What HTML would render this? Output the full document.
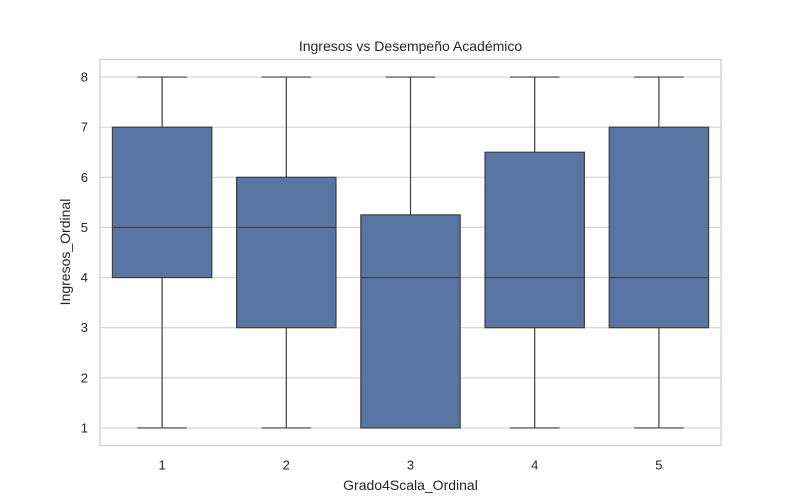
<!DOCTYPE html>
<html><head><meta charset="utf-8"><style>
html,body{margin:0;padding:0;background:#fff;}
svg{display:block;font-family:"Liberation Sans","DejaVu Sans",sans-serif;}
</style></head><body>
<svg id="chart" width="800" height="500" xmlns="http://www.w3.org/2000/svg">
<rect x="0" y="0" width="800" height="500" fill="#fff"/>
<g id="grid"></g>
<g id="boxes"></g>
<rect x="100" y="59.5" width="621" height="386" fill="none" stroke="#cccccc" stroke-width="1.2"/>
<g id="ticks"></g>
<text x="410.5" y="51" text-anchor="middle" font-size="14" fill="#262626">Ingresos vs Desempeño Académico</text>
<text x="410.5" y="490" text-anchor="middle" font-size="14" fill="#262626">Grado4Scala_Ordinal</text>
<text transform="translate(70,252) rotate(-90)" text-anchor="middle" font-size="14" fill="#262626">Ingresos_Ordinal</text>
</svg>
<script>
const categories = ["1","2","3","4","5"];
const mins = [1,1,1,1,1];
const q1s = [4,3,1,3,3];
const medians = [5,5,4,4,4];
const q3s = [7,6,5.25,6.5,7];
const maxs = [8,8,8,8,8];
const yTicks = [1,2,3,4,5,6,7,8];

const L=100,R=721,T=59.5,B=445.5;
const yMin=0.65,yMax=8.35;
function y(v){return B-(v-yMin)/(yMax-yMin)*(B-T);}
function x(i){return L+(i+0.5)/categories.length*(R-L);}
const step=(R-L)/categories.length;
const NS="http://www.w3.org/2000/svg";
function mk(tag,attrs,parent){const e=document.createElementNS(NS,tag);for(const k in attrs)e.setAttribute(k,attrs[k]);parent.appendChild(e);return e;}
const grid=document.getElementById('grid'),boxes=document.getElementById('boxes'),ticks=document.getElementById('ticks');
yTicks.forEach(t=>{
  const g=mk('line',{x1:L,x2:R,y1:y(t),y2:y(t),stroke:'#cccccc','stroke-width':1},grid);
  
  
  const tx=mk('text',{x:L-12,y:y(t)+4.5,'text-anchor':'end','font-size':13,fill:'#262626'},ticks);
  tx.textContent=t;
  
  
});
categories.forEach((c,i)=>{
  const cx=x(i),bw=step*0.8,cw=bw/2;
  const g=mk('g',{},boxes);
  
  
  const st={stroke:'#3f3f3f','stroke-width':1.2};
  mk('line',Object.assign({x1:cx,x2:cx,y1:y(q3s[i]),y2:y(maxs[i])},st),g);
  mk('line',Object.assign({x1:cx,x2:cx,y1:y(q1s[i]),y2:y(mins[i])},st),g);
  mk('line',Object.assign({x1:cx-cw/2,x2:cx+cw/2,y1:y(maxs[i]),y2:y(maxs[i])},st),g);
  mk('line',Object.assign({x1:cx-cw/2,x2:cx+cw/2,y1:y(mins[i]),y2:y(mins[i])},st),g);
  mk('rect',Object.assign({x:cx-bw/2,y:y(q3s[i]),width:bw,height:y(q1s[i])-y(q3s[i]),fill:'#5975a4'},st),g);
  mk('line',Object.assign({x1:cx-bw/2,x2:cx+bw/2,y1:y(medians[i]),y2:y(medians[i])},st),g);
  const tx=mk('text',{x:cx,y:B+24,'text-anchor':'middle','font-size':13,fill:'#262626'},ticks);
  tx.textContent=c;
  
  
});
</script>
</body></html>
